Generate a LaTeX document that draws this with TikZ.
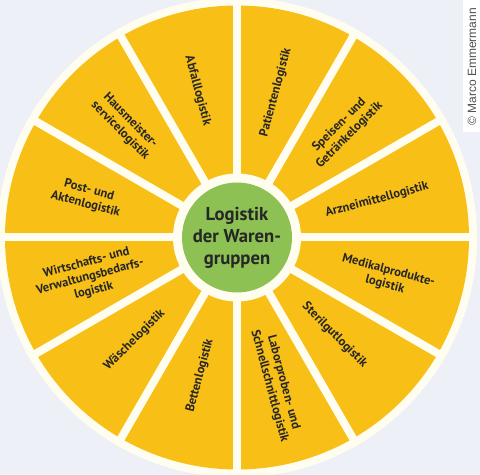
\documentclass[tikz,border=0pt]{standalone}
\usepackage{fontspec}
\setmainfont{PT Sans}
\newfontfamily\creditfont{Liberation Sans}
\usepackage{tikz}
\usetikzlibrary{calc}
\definecolor{segyellow}{HTML}{F8BF17}
\definecolor{hubgreen}{HTML}{8DC153}
\definecolor{paper}{HTML}{EDF0F7}
\definecolor{rim}{HTML}{FFFDF0}
\definecolor{ink}{HTML}{262626}
\tikzstyle{background}=[fill=paper]
\tikzstyle{rimshading}=[fill=rim]
\tikzstyle{segmentshading}=[fill=segyellow]
\tikzstyle{hubshading}=[fill=hubgreen]
\tikzstyle{gap}=[draw=rim,line width=6pt]
\tikzstyle{segtext}=[font=\bfseries\fontsize{9.4}{10.8}\selectfont,text=ink,align=center,inner sep=0pt]
\tikzstyle{hubtext}=[font=\bfseries\fontsize{14}{16.5}\selectfont,text=ink,align=center,inner sep=0pt]
\tikzstyle{credit}=[font=\creditfont\fontsize{9}{10}\selectfont,text=ink!80,inner sep=0pt]

\begin{document}
\begin{tikzpicture}[x=0.75pt,y=0.75pt]
		\useasboundingbox (0,0) rectangle (480,475);
		\clip (0,0) rectangle (480,475);
		\fill[background] (0,0) rectangle (480,475);
		\coordinate (hub) at (237,237.5);
		% wheel
		\fill[rimshading] (hub) circle (240);
		\fill[segmentshading] (hub) circle (232);
		\foreach \ang in {0,30,...,330}
			\draw[gap] (hub) -- ($(hub)+(\ang:236)$);
		\fill[rimshading] (hub) circle (64);
		\fill[hubshading] (hub) circle (55);
		\node[hubtext] (title) at (hub) {Logistik\\der Waren-\\gruppen};
		% segment labels
		\foreach \ang/\rot/\rad/\txt in {
			15/15/145/{Arzneimittellogistik},
			45/45/152/{Speisen- und\\Getränkelogistik},
			75/75/150/{Patientenlogistik},
			105/-75/152/{Abfalllogistik},
			135/-45/158/{Hausmeister-\\servicelogistik},
			165/-15/155/{Post- und\\Aktenlogistik},
			195/15/152/{Wirtschafts- und\\Verwaltungsbedarfs-\\logistik},
			225/45/145/{Wäschelogistik},
			255/75/143/{Bettenlogistik},
			285/-75/152/{Laborproben- und\\Schnellschnittlogistik},
			315/-45/138/{Sterilgutlogistik},
			345/-15/155/{Medikalprodukte-\\logistik}}
			\node[segtext,rotate=\rot] (seg\ang) at ($(hub)+(\ang:\rad)$) {\txt};
		% credit
		\fill[white] (463,343) rectangle (480,475);
		\node[credit,rotate=90] (credit) at (472,408) {© Marco Emmermann};
	\end{tikzpicture}
\end{document}
